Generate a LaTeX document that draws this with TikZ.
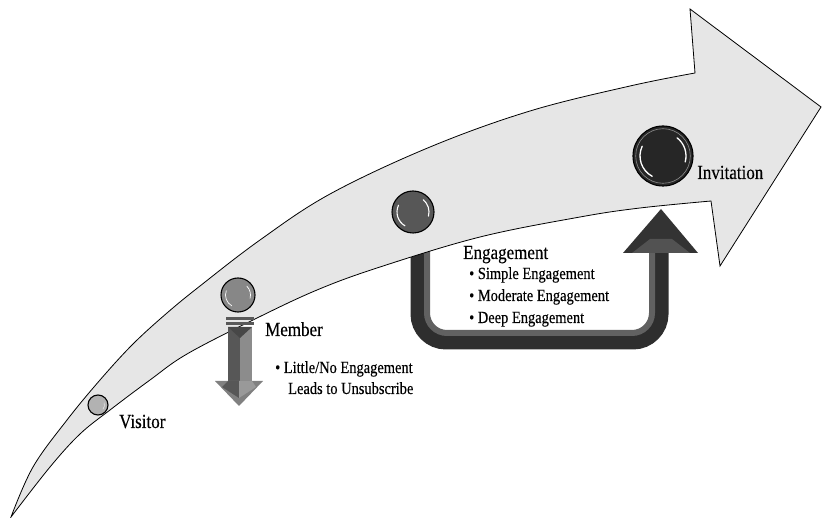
\documentclass[tikz,border=0pt]{standalone}
\usepackage{fontspec}
\setmainfont{Liberation Serif}[FakeStretch=0.85,FakeBold=0.3]
\begin{document}
\begin{tikzpicture}[x=1pt,y=-1pt,
  label/.style={inner sep=0pt,anchor=base west,font=\fontsize{20}{24}\selectfont},
  item/.style={inner sep=0pt,anchor=base west,font=\fontsize{17}{21}\selectfont},
  stage/.style={circle,draw=black,line width=1.1pt,inner sep=0pt,minimum size=#1},
  shine/.style={white,line width=1.1pt,line cap=round}]
\useasboundingbox (0,0) rectangle (822,518);
\definecolor{band}{HTML}{E6E6E6}

% U-shaped return arrow (drawn first, the main arrow overlaps its left end)
\draw[line width=19pt,color=black!82,rounded corners=26pt]
  (420,230) -- (420,340) -- (659,340) -- (659,250);
\draw[line width=6pt,color=black!62,rounded corners=20pt]
  (427,240) -- (427,333) -- (652,333) -- (652,250);
\fill[black!80] (623,253) -- (698,253) -- (661,209) -- cycle;
\fill[black!68] (632,253) -- (650,239) -- (672,239) -- (690,253) -- cycle;

% main curved arrow
\draw[fill=band,line width=0.8pt,line join=miter]
  plot[smooth,tension=0.6] coordinates {(11,517) (33,467) (67,420) (100,380)
    (133,344) (167,313) (200,286) (260,240) (330,194) (430,147) (530,111)
    (630,86) (695,73)}
  -- (690,9) -- (821,107) -- (720,266) -- (711,201)
  -- plot[smooth,tension=0.6] coordinates {(711,201) (640,208) (580,217)
    (480,237) (380,267) (317,290) (253,320) (187,354) (150,380) (110,410)
    (80,434) (50,467) (11,517)}
  -- cycle;

% downward arrow below the member stage
\fill[black!65] (226,317) rectangle (254,320);
\fill[black!65] (226,322) rectangle (254,325);
\fill[black!66] (228,327) rectangle (240,382);
\fill[black!45] (240,327) rectangle (252,382);
\fill[black!72] (228,327) -- (252,327) -- (240,338) -- cycle;
\fill[black!50] (215,381) -- (263,381) -- (239,406) -- cycle;
\fill[black!66] (228,381) -- (239,381) -- (239,398) -- (222,387) -- cycle;
\fill[black!40] (239,381) -- (252,381) -- (256,387) -- (239,398) -- cycle;

% stages along the arrow
\node[stage=20pt,fill=black!30] (visitor) at (98,405) {};
\draw[shine,white!70!black!30,line width=0.6pt] (visitor.center) ++(-20:6.5) arc (-20:40:6.5);

\node[stage=34pt,fill=black!47] (member) at (238,295) {};
\draw[shine,line width=0.7pt] (member.center) ++(120:12.5) arc (120:200:12.5);
\draw[shine,line width=0.7pt] (member.center) ++(15:12.5) arc (15:-45:12.5);

\node[stage=42pt,fill=black!66] (engage) at (413,212) {};
\draw[shine] (engage.center) ++(120:16) arc (120:205:16);
\draw[shine] (engage.center) ++(15:16) arc (15:-50:16);

\node[stage=60pt,fill=black!85] (invite) at (663,156) {};
\draw[black!45,line width=0.6pt] (invite.center) circle (27.3);
\draw[shine,line width=1.3pt] (invite.center) ++(118:23) arc (118:205:23);
\draw[shine,line width=1.3pt] (invite.center) ++(15:23) arc (15:-52:23);

% labels
\node[label] (tvisitor) at (119,428) {Visitor};
\node[label] (tmember) at (265,336) {Member};
\node[item] (tlittle) at (275,373) {\textbullet\ Little/No Engagement};
\node[item] (tleads) at (288,394) {Leads to Unsubscribe};
\node[label] (tengage) at (463,259) {Engagement};
\node[item] (tsimple) at (469,279) {\textbullet\ Simple Engagement};
\node[item] (tmoderate) at (469,301) {\textbullet\ Moderate Engagement};
\node[item] (tdeep) at (469,323) {\textbullet\ Deep Engagement};
\node[label] (tinvite) at (697,179) {Invitation};
\end{tikzpicture}
\end{document}
